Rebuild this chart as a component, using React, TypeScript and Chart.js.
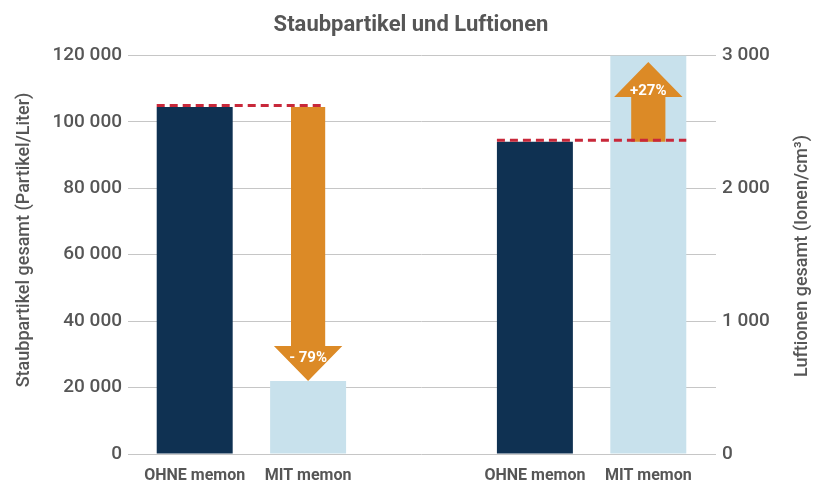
import React, { useEffect, useRef } from 'react';
import { Chart, registerables } from 'chart.js';

Chart.register(...registerables);

const categories = ['OHNE memon', 'MIT memon', '', 'OHNE memon', 'MIT memon'];
const dustValues = [104500, 22000, null, null, null];
const ionValues = [null, null, null, 2350, 3000];
const barColors = ['#0f3152', '#c8e1ec', 'rgba(0,0,0,0)', '#0f3152', '#c8e1ec'];

const leftMin = 0;
const leftMax = 120000;
const leftStep = 20000;
const rightMin = 0;
const rightMax = 3000;
const rightStep = 500;
const rightLabelStep = 1000;

const arrowIndex = [1, 4];
const arrowAxis = ['y', 'y1'];
const arrowFrom = [104500, 2350];
const arrowTo = [22000, 2950];
const arrowLabels = ['- 79%', '+27%'];

const refStartIndex = [0, 3];
const refEndIndex = [1, 4];
const refAxis = ['y', 'y1'];
const refValue = [104500, 2350];

const titleText = 'Staubpartikel und Luftionen';
const leftTitle = 'Staubpartikel gesamt (Partikel/Liter)';
const rightTitle = 'Luftionen gesamt (Ionen/cm³)';

const FONT = 'Roboto, "Noto Sans", sans-serif';
const GREY = '#565656';
const ORANGE = '#dc8a26';
const RED = '#c8283a';

const fmt = (v: number) => String(v).replace(/\B(?=(\d{3})+(?!\d))/g, ' ');

const annotations = {
  id: 'annotations',
  afterDatasetsDraw(chart: any) {
    const ctx = chart.ctx;
    const xs = chart.scales.x;
    const meta0 = chart.getDatasetMeta(0);
    const barW = meta0.data[0].width;
    const shaftHalf = barW * 0.225;
    const headHalf = barW * 0.45;
    const headLen = barW * 0.46;
    ctx.save();
    for (let i = 0; i < arrowIndex.length; i++) {
      const cx = xs.getPixelForValue(arrowIndex[i]);
      const ys = chart.scales[arrowAxis[i]];
      const y0 = ys.getPixelForValue(arrowFrom[i]);
      const y1 = ys.getPixelForValue(arrowTo[i]);
      const dir = Math.sign(y1 - y0);
      const yb = y1 - dir * headLen;
      ctx.beginPath();
      ctx.moveTo(cx - shaftHalf, y0);
      ctx.lineTo(cx + shaftHalf, y0);
      ctx.lineTo(cx + shaftHalf, yb);
      ctx.lineTo(cx + headHalf, yb);
      ctx.lineTo(cx, y1);
      ctx.lineTo(cx - headHalf, yb);
      ctx.lineTo(cx - shaftHalf, yb);
      ctx.closePath();
      ctx.fillStyle = ORANGE;
      ctx.fill();
      ctx.fillStyle = '#ffffff';
      ctx.font = `bold 15px ${FONT}`;
      ctx.textAlign = 'center';
      ctx.textBaseline = 'middle';
      const ty = dir > 0 ? yb + 12 : yb - 6;
      ctx.fillText(arrowLabels[i], cx, ty);
    }
    ctx.setLineDash([8, 5]);
    ctx.lineWidth = 3;
    ctx.strokeStyle = RED;
    for (let i = 0; i < refStartIndex.length; i++) {
      const ys = chart.scales[refAxis[i]];
      const y = ys.getPixelForValue(refValue[i]) - 1.5;
      const xStart = xs.getPixelForValue(refStartIndex[i]) - barW / 2;
      const xEnd = i === 0
        ? xs.getPixelForValue(refEndIndex[i]) + shaftHalf
        : xs.getPixelForValue(refEndIndex[i]) + barW / 2;
      ctx.beginPath();
      ctx.moveTo(xStart, y);
      ctx.lineTo(xEnd, y);
      ctx.stroke();
    }
    ctx.restore();
  },
  afterDraw(chart: any) {
    const ctx = chart.ctx;
    ctx.save();
    ctx.fillStyle = GREY;
    ctx.font = `500 18px ${FONT}`;
    ctx.textAlign = 'center';
    ctx.textBaseline = 'middle';
    ctx.translate(24, 240);
    ctx.rotate(-Math.PI / 2);
    ctx.fillText(leftTitle, 0, 0);
    ctx.restore();
    ctx.save();
    ctx.fillStyle = GREY;
    ctx.font = `500 18px ${FONT}`;
    ctx.textAlign = 'center';
    ctx.textBaseline = 'middle';
    ctx.translate(802, 256);
    ctx.rotate(-Math.PI / 2);
    ctx.fillText(rightTitle, 0, 0);
    ctx.restore();
  },
};

export default function App() {
  const ref = useRef<HTMLCanvasElement | null>(null);
  useEffect(() => {
    if (!ref.current) return;
    const chart = new Chart(ref.current, {
      type: 'bar',
      data: {
        labels: categories,
        datasets: [
          {
            label: 'Staubpartikel',
            data: dustValues as any,
            yAxisID: 'y',
            backgroundColor: barColors,
            grouped: false,
            barPercentage: 0.67,
            categoryPercentage: 1,
          } as any,
          {
            label: 'Luftionen',
            data: ionValues as any,
            yAxisID: 'y1',
            backgroundColor: barColors,
            grouped: false,
            barPercentage: 0.67,
            categoryPercentage: 1,
          } as any,
        ],
      },
      options: {
        animation: false,
        responsive: true,
        maintainAspectRatio: false,
        layout: { padding: { top: 0, left: 0, right: 0, bottom: 0 } },
        plugins: {
          legend: { display: false },
          tooltip: { enabled: false },
          title: {
            display: true,
            text: titleText,
            color: GREY,
            font: { family: FONT, size: 22, weight: 'bold' },
            padding: { top: 12, bottom: 17 },
          },
        },
        scales: {
          x: {
            grid: { display: false },
            border: { display: false },
            ticks: {
              color: GREY,
              font: { family: FONT, size: 16, weight: 'bold' },
              padding: 4,
              maxRotation: 0,
              autoSkip: false,
            },
            afterFit: (s: any) => { s.height = 30; },
          },
          y: {
            position: 'left',
            min: leftMin,
            max: leftMax,
            grid: { color: '#c6c6c6', lineWidth: 1, tickLength: 10 },
            border: { display: false },
            ticks: {
              stepSize: leftStep,
              color: GREY,
              font: { family: FONT, size: 19, weight: '500' },
              padding: 6,
              callback: (v: any) => fmt(Number(v)),
            },
            afterFit: (s: any) => { s.width = 138; },
          },
          y1: {
            position: 'right',
            min: rightMin,
            max: rightMax,
            grid: { drawOnChartArea: false, color: '#c6c6c6', lineWidth: 1, tickLength: 11 },
            border: { display: false },
            ticks: {
              stepSize: rightStep,
              color: GREY,
              font: { family: FONT, size: 19, weight: '500' },
              padding: 6,
              callback: (v: any) => (Number(v) % rightLabelStep === 0 ? fmt(Number(v)) : ''),
            },
            afterFit: (s: any) => { s.width = 117; },
          },
        },
      } as any,
      plugins: [annotations],
    });
    return () => chart.destroy();
  }, []);
  return (
    <div style={{ position: 'absolute', left: 0, top: 0, width: 822, height: 484 }}>
      <canvas ref={ref} />
    </div>
  );
}
